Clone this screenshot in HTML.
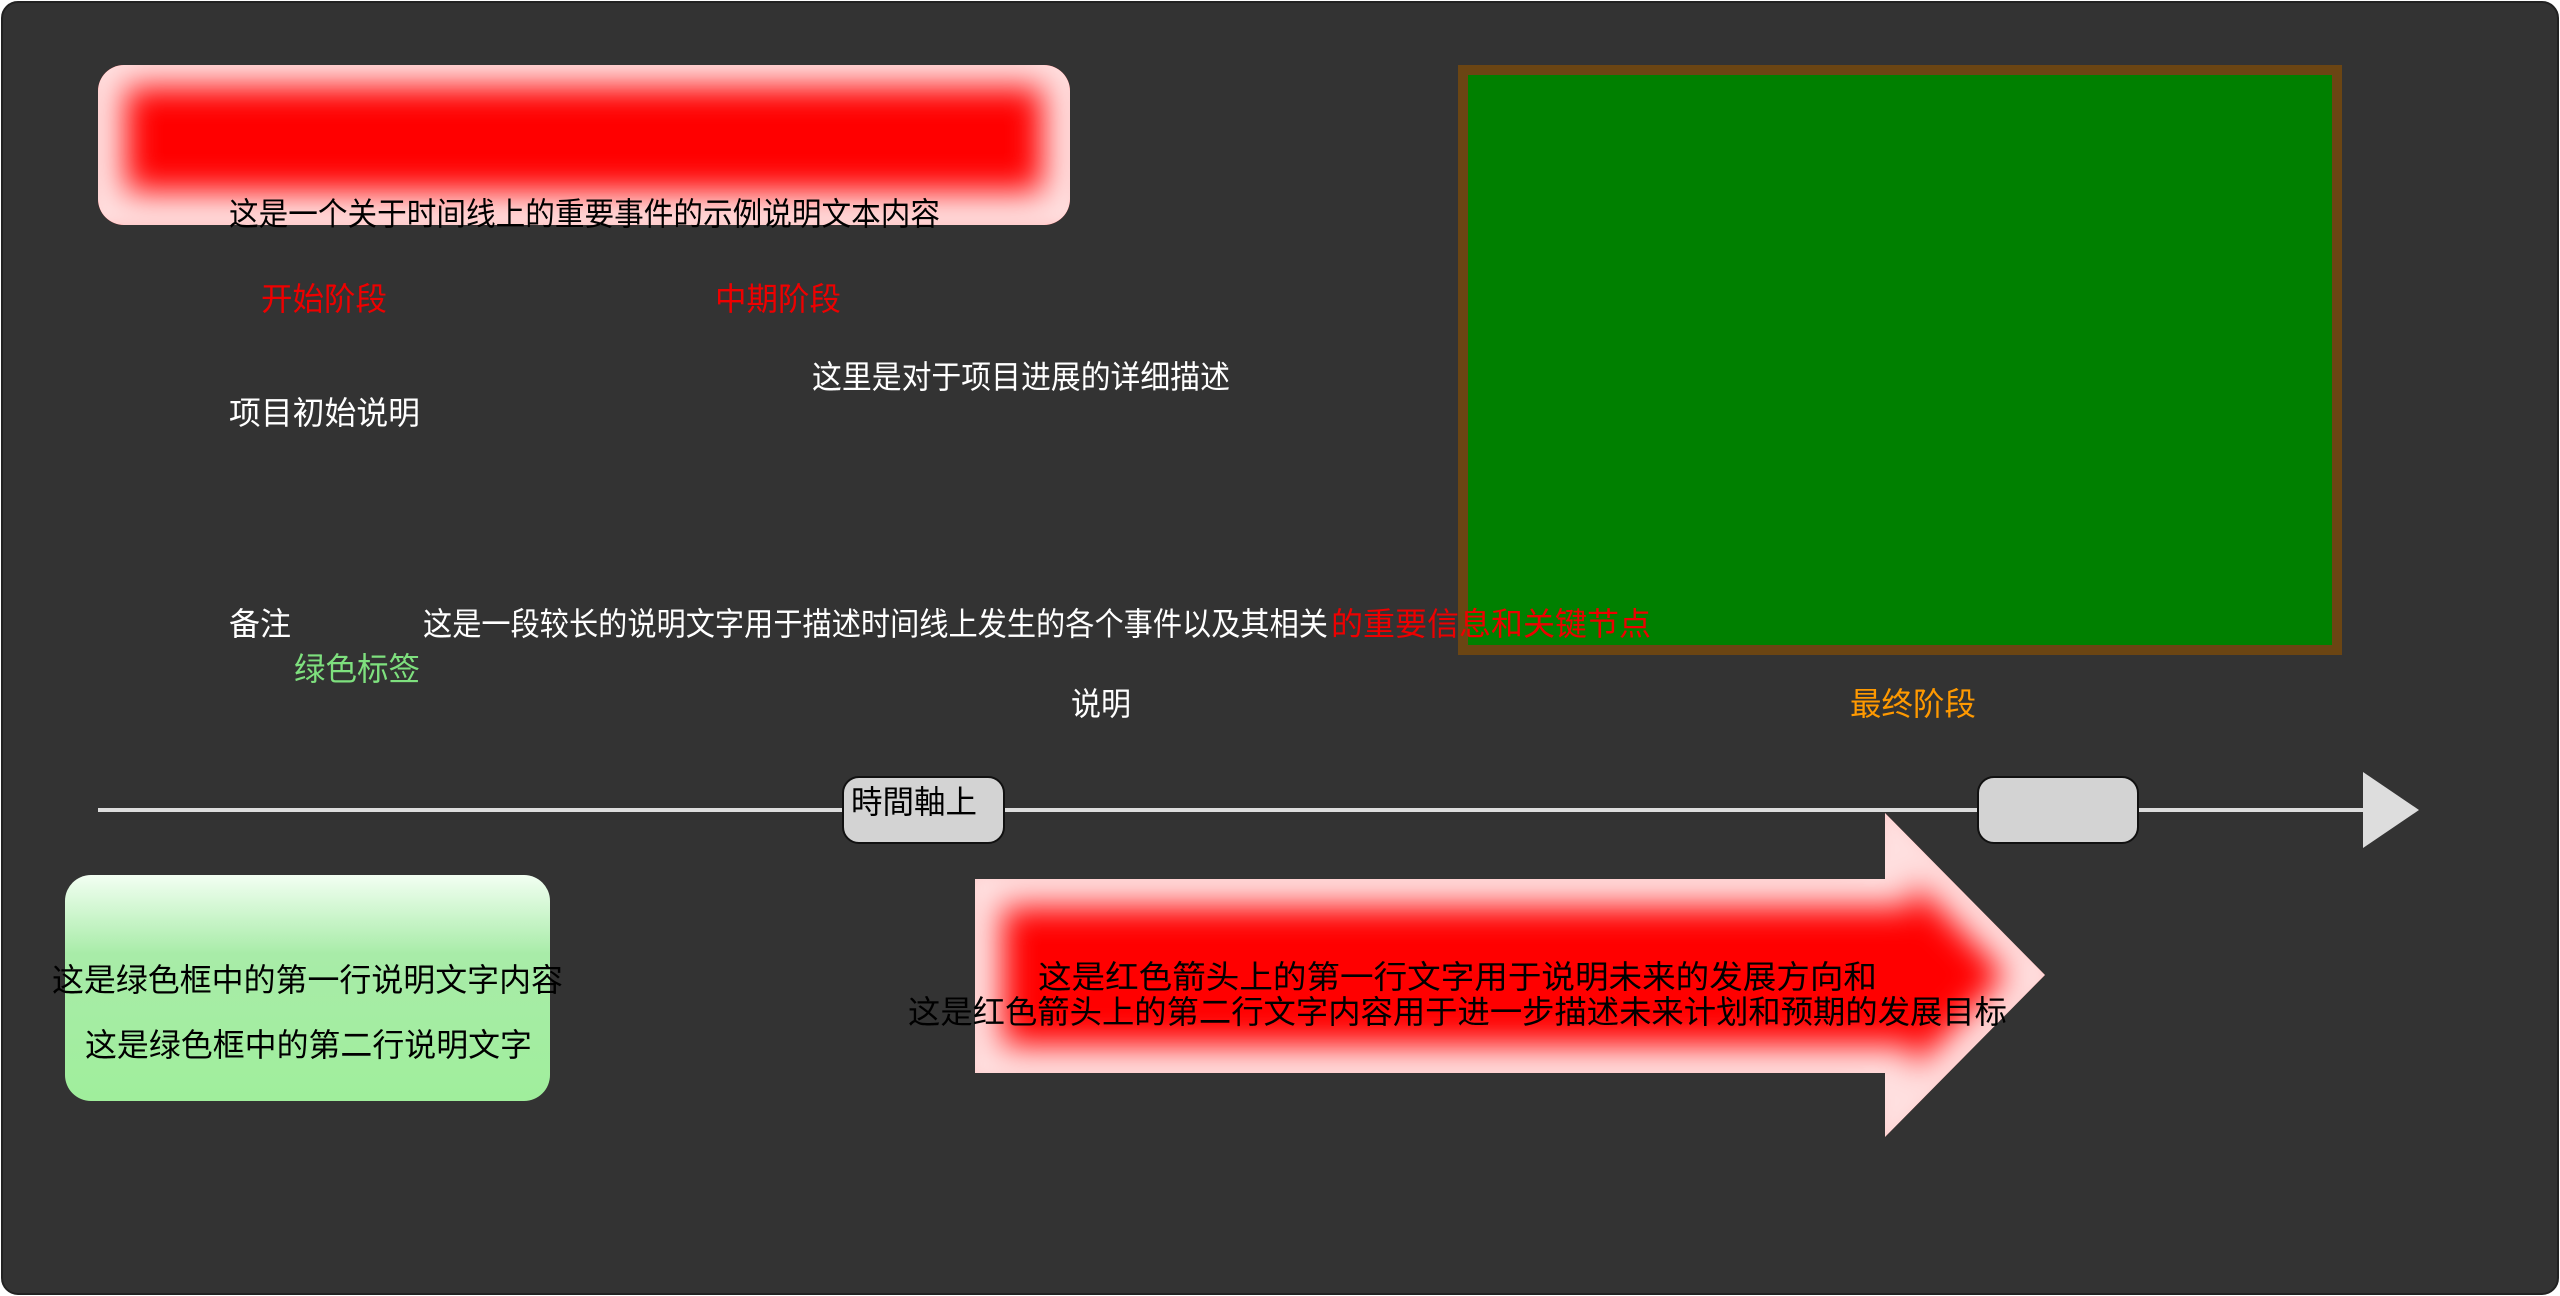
<!DOCTYPE html>
<html><head><meta charset="utf-8"><style>
html,body{margin:0;padding:0;background:#fff;width:2560px;height:1296px;overflow:hidden}
text{font-family:"Liberation Sans","Noto Sans CJK SC",sans-serif;font-size:32px;dominant-baseline:central}
</style></head><body>
<svg width="2560" height="1296" viewBox="0 0 2560 1296" xmlns="http://www.w3.org/2000/svg">
<defs>
<filter id="bl" x="-20%" y="-20%" width="140%" height="140%"><feGaussianBlur stdDeviation="16"/></filter>
<linearGradient id="gg" x1="0" y1="0" x2="0" y2="1"><stop offset="0" stop-color="#f2fff2"/><stop offset="0.35" stop-color="#a8eca8"/><stop offset="1" stop-color="#a0ee9c"/></linearGradient>
<clipPath id="c1"><rect x="98" y="65" width="972" height="160" rx="26"/></clipPath>
<clipPath id="c3"><polygon points="975,879 1885,879 1885,813 2045,975 1885,1137 1885,1073 975,1073"/></clipPath>
</defs>
<rect x="2" y="2" width="2556" height="1292" rx="16" fill="#333" stroke="#222" stroke-width="2"/>

<g clip-path="url(#c1)">
<rect x="98" y="65" width="972" height="160" fill="#ff0000"/>
<rect x="98" y="65" width="972" height="160" fill="none" stroke="#ffe0e0" stroke-width="56" filter="url(#bl)" transform="translate(0,-6)"/>
</g>
<rect x="65" y="875" width="485" height="226" rx="26" fill="url(#gg)"/>
<g clip-path="url(#c3)">
<polygon points="975,879 1885,879 1885,813 2045,975 1885,1137 1885,1073 975,1073" fill="#ff0000"/>
<polygon points="975,879 1885,879 1885,813 2045,975 1885,1137 1885,1073 975,1073" fill="none" stroke="#ffe0e0" stroke-width="56" filter="url(#bl)"/>
</g>

<rect x="1463" y="70" width="874" height="580" fill="#008000" stroke="#6b4513" stroke-width="10"/>

<line x1="98" y1="810" x2="2370" y2="810" stroke="#ddd" stroke-width="4"/>
<polygon points="2363,772 2419,810 2363,848" fill="#ddd"/>
<rect x="843" y="777" width="161" height="66" rx="16" fill="#d3d3d3" stroke="#111" stroke-width="2"/>
<rect x="1978" y="777" width="160" height="66" rx="16" fill="#d3d3d3" stroke="#111" stroke-width="2"/>
<text x="851" y="802" fill="#000" textLength="126" lengthAdjust="spacingAndGlyphs">時間軸上</text>

<text x="229" y="214" fill="#000" textLength="711" lengthAdjust="spacingAndGlyphs">这是一个关于时间线上的重要事件的示例说明文本内容</text>
<text x="261" y="299" fill="#e00" textLength="126" lengthAdjust="spacingAndGlyphs">开始阶段</text>
<text x="715" y="299" fill="#e00" textLength="126" lengthAdjust="spacingAndGlyphs">中期阶段</text>
<text x="812" y="377" fill="#fff" textLength="418" lengthAdjust="spacingAndGlyphs">这里是对于项目进展的详细描述</text>
<text x="229" y="413" fill="#fff" textLength="191" lengthAdjust="spacingAndGlyphs">项目初始说明</text>
<text x="229" y="624" fill="#fff" textLength="62" lengthAdjust="spacingAndGlyphs">备注</text>
<text x="294" y="669" fill="#7ee07e" textLength="126" lengthAdjust="spacingAndGlyphs">绿色标签</text>
<text x="423" y="624" fill="#fff" textLength="905" lengthAdjust="spacingAndGlyphs">这是一段较长的说明文字用于描述时间线上发生的各个事件以及其相关</text>
<text x="1331" y="624" fill="#e00" textLength="320" lengthAdjust="spacingAndGlyphs">的重要信息和关键节点</text>
<text x="1071" y="704" fill="#fff" textLength="60" lengthAdjust="spacingAndGlyphs">说明</text>
<text x="1850" y="704" fill="#f90" textLength="126" lengthAdjust="spacingAndGlyphs">最终阶段</text>

<text x="52" y="980" fill="#000" textLength="511" lengthAdjust="spacingAndGlyphs">这是绿色框中的第一行说明文字内容</text>
<text x="85" y="1045" fill="#000" textLength="447" lengthAdjust="spacingAndGlyphs">这是绿色框中的第二行说明文字</text>

<text x="1038" y="977" fill="#000" textLength="839" lengthAdjust="spacingAndGlyphs">这是红色箭头上的第一行文字用于说明未来的发展方向和</text>
<text x="908" y="1012" fill="#000" textLength="1099" lengthAdjust="spacingAndGlyphs">这是红色箭头上的第二行文字内容用于进一步描述未来计划和预期的发展目标</text>
</svg>
</body></html>
